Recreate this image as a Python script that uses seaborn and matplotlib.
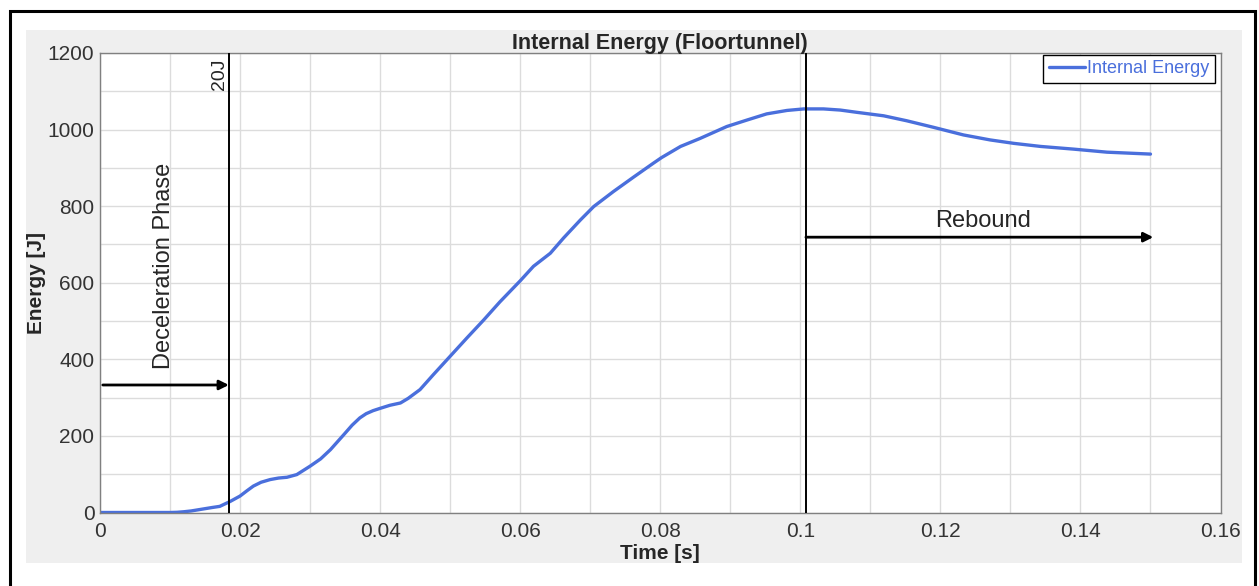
import matplotlib
matplotlib.use("Agg")
import matplotlib.pyplot as plt
from matplotlib.patches import Rectangle
from matplotlib.ticker import MultipleLocator, FuncFormatter
import seaborn as sns
import pandas as pd

# --- DATA ---
time_s = [0.0, 0.005, 0.010, 0.011, 0.012, 0.013, 0.014, 0.015, 0.016, 0.0171,
          0.0186, 0.020, 0.021, 0.0219, 0.023, 0.0243, 0.0255, 0.0267, 0.0281,
          0.030, 0.0315, 0.0329, 0.0348, 0.036, 0.0371, 0.038, 0.039, 0.040,
          0.0414, 0.0429, 0.044, 0.0457, 0.0476, 0.050, 0.0524, 0.0548, 0.0571,
          0.060, 0.0619, 0.0643, 0.0662, 0.0686, 0.0705, 0.0733, 0.0762, 0.079,
          0.0802, 0.0829, 0.0857, 0.0895, 0.0924, 0.0952, 0.0981, 0.1005, 0.1033,
          0.1057, 0.1081, 0.1119, 0.1152, 0.119, 0.1233, 0.1271, 0.1305, 0.1343,
          0.139, 0.1438, 0.150]
energy_j = [0, 0, 0, 0.5, 2, 4, 7, 10, 13, 16,
            29, 43, 57, 69, 79, 86, 90, 92, 99,
            121, 140, 164, 203, 228, 247, 258, 266, 272,
            280, 286, 298, 321, 360, 408, 456, 503, 550,
            605, 643, 677, 717, 764, 799, 838, 876, 912,
            927, 956, 977, 1008, 1025, 1041, 1050, 1054, 1054,
            1051, 1045, 1036, 1023, 1006, 986, 973, 964, 956,
            949, 941, 936]
SERIES_NAME = "Internal Energy"
DECEL_END = 0.0184     # end of deceleration phase (20J marker)
REBOUND_START = 0.1008
X_TICKS = [0, 0.02, 0.04, 0.06, 0.08, 0.1, 0.12, 0.14, 0.16]

df = pd.DataFrame({"Time [s]": time_s, "Energy [J]": energy_j, "series": SERIES_NAME})

sns.set_style("whitegrid")
plt.rcParams["font.family"] = ["Liberation Sans", "DejaVu Sans"]

W, H = 1259, 586
fig = plt.figure(figsize=(W / 100, H / 100), dpi=100)
fig.patch.set_facecolor("white")

# grey panel + black outer frame
fig.add_artist(Rectangle((26 / W, 1 - 563 / H), (1242 - 26) / W, (563 - 30) / H,
                         transform=fig.transFigure, facecolor="#efefef",
                         edgecolor="none", zorder=-5))
fig.add_artist(Rectangle((9.5 / W, -0.05), (1255 - 9.5) / W, 1.05 - 11 / H,
                         transform=fig.transFigure, facecolor="none",
                         edgecolor="black", linewidth=2.2, zorder=10))

ax = fig.add_axes([100 / W, 1 - 512.5 / H, 1120.5 / W, 459.5 / H])
ax.set_facecolor("white")

line_color = "#4a6fdc"
sns.lineplot(data=df, x="Time [s]", y="Energy [J]", hue="series",
             palette=[line_color], linewidth=2.4, ax=ax)

ax.set_xlim(0, 0.16)
ax.set_ylim(0, 1200)
ax.set_xticks(X_TICKS)
ax.xaxis.set_major_formatter(FuncFormatter(lambda v, p: f"{v:g}"))
ax.xaxis.set_minor_locator(MultipleLocator(0.01))
ax.yaxis.set_major_locator(MultipleLocator(200))
ax.yaxis.set_minor_locator(MultipleLocator(100))
ax.grid(True, which="both", color="#dcdcdc", linewidth=1.0)
ax.tick_params(which="major", length=4, width=1, color="#808080",
               labelsize=15, labelcolor="#333333")
ax.tick_params(which="minor", length=0)
ax.tick_params(axis="x", pad=3)
ax.tick_params(axis="y", pad=0)
for s in ax.spines.values():
    s.set_color("#808080")
    s.set_linewidth(1.0)

ax.set_title("Internal Energy (Floortunnel)", fontsize=15.5, fontweight="bold", pad=3)
ax.set_xlabel("Time [s]", fontsize=15, fontweight="bold", labelpad=2)
ax.set_ylabel("Energy [J]", fontsize=15, fontweight="bold", labelpad=1)

# phase markers
ax.axvline(DECEL_END, color="black", linewidth=1.4, zorder=4)
ax.axvline(REBOUND_START, color="black", linewidth=1.4, zorder=4)
arrow = dict(arrowstyle="-|>", color="black", lw=2.0, mutation_scale=14,
             shrinkA=0, shrinkB=0)
ax.annotate("", xy=(DECEL_END, 333), xytext=(0.0004, 333), arrowprops=arrow)
ax.annotate("", xy=(0.1504, 719), xytext=(REBOUND_START, 719), arrowprops=arrow)
ax.text(0.0091, 644, "Deceleration Phase", rotation=90, fontsize=17,
        ha="center", va="center")
ax.text(0.0170, 1145, "20J", rotation=90, fontsize=14, ha="center", va="center")
ax.text(0.1261, 761, "Rebound", fontsize=17, ha="center", va="center")

leg = ax.legend(loc="upper right", bbox_to_anchor=(0.9951, 0.9956), borderaxespad=0,
                fontsize=13, frameon=True, fancybox=False, edgecolor="black",
                handlelength=2.0, handletextpad=0.15, borderpad=0.3,
                labelcolor=line_color)
leg.get_frame().set_linewidth(1.0)
leg.get_frame().set_alpha(1)

fig.savefig("out.png", dpi=100)
